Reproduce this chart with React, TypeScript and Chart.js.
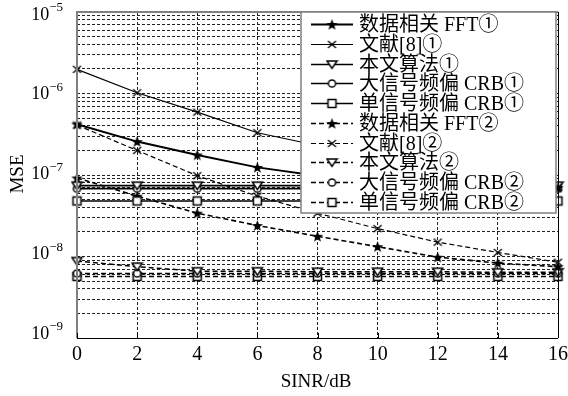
import React, { useEffect, useRef } from 'react';
import { Chart, registerables } from 'chart.js';
Chart.register(...registerables);

// ---- data ----
const sinr = [0, 2, 4, 6, 8, 10, 12, 14, 16];
const fft1 = [4.2e-7, 2.57e-7, 1.76e-7, 1.24e-7, 9.8e-8, 8.5e-8, 7.8e-8, 7.3e-8, 7.0e-8];
const ref1 = [1.98e-6, 1.02e-6, 5.9e-7, 3.3e-7, 2.3e-7, 1.6e-7, 1.15e-7, 8.8e-8, 7.0e-8];
const prop1 = [7.4e-8, 7.4e-8, 7.4e-8, 7.4e-8, 7.4e-8, 7.4e-8, 7.4e-8, 7.4e-8, 7.4e-8];
const crbLarge1 = [6.8e-8, 6.8e-8, 6.8e-8, 6.8e-8, 6.8e-8, 6.8e-8, 6.8e-8, 6.8e-8, 6.8e-8];
const crbSingle1 = [4.8e-8, 4.8e-8, 4.8e-8, 4.8e-8, 4.8e-8, 4.8e-8, 4.8e-8, 4.8e-8, 4.8e-8];
const fft2 = [9.2e-8, 5.5e-8, 3.4e-8, 2.4e-8, 1.77e-8, 1.32e-8, 9.8e-9, 8.3e-9, 7.5e-9];
const ref2 = [4.1e-7, 2.0e-7, 9.8e-8, 5.5e-8, 3.4e-8, 2.2e-8, 1.5e-8, 1.12e-8, 8.5e-9];
const prop2 = [8.8e-9, 7.5e-9, 6.6e-9, 6.6e-9, 6.5e-9, 6.5e-9, 6.5e-9, 6.4e-9, 6.4e-9];
const crbLarge2 = [6.2e-9, 6.2e-9, 6.2e-9, 6.2e-9, 6.2e-9, 6.2e-9, 6.2e-9, 6.2e-9, 6.2e-9];
const crbSingle2 = [5.7e-9, 5.7e-9, 5.7e-9, 5.7e-9, 5.7e-9, 5.7e-9, 5.7e-9, 5.7e-9, 5.7e-9];

const seriesNames = [
  '数据相关 FFT①', '文献[8]①', '本文算法①', '大信号频偏 CRB①', '单信号频偏 CRB①',
  '数据相关 FFT②', '文献[8]②', '本文算法②', '大信号频偏 CRB②', '单信号频偏 CRB②',
];
const seriesValues = [fft1, ref1, prop1, crbLarge1, crbSingle1, fft2, ref2, prop2, crbLarge2, crbSingle2];
const seriesMarkers = ['star', 'cross', 'tri', 'circle', 'square', 'star', 'cross', 'tri', 'circle', 'square'];
const seriesDashed = [false, false, false, false, false, true, true, true, true, true];
const seriesWidths = [2, 1.2, 1.6, 1.6, 1.4, 1.6, 1.2, 1.5, 1.5, 1.5];

const xTicks = [0, 2, 4, 6, 8, 10, 12, 14, 16];
const yDecades = [-5, -6, -7, -8, -9];
const xTitle = 'SINR/dB';
const yTitle = 'MSE';

const SERIF = '"Liberation Serif", "Times New Roman", "Noto Sans CJK SC", serif';

function makeMarker(kind: string): HTMLCanvasElement {
  const c = document.createElement('canvas');
  c.width = 13; c.height = 13;
  const g = c.getContext('2d')!;
  const m = 6.5;
  g.strokeStyle = '#000';
  g.fillStyle = '#fff';
  g.lineWidth = 1.5;
  if (kind === 'star') {
    g.beginPath();
    for (let i = 0; i < 10; i++) {
      const r = i % 2 === 0 ? 6 : 2.5;
      const a = -Math.PI / 2 + (i * Math.PI) / 5;
      const px = m + r * Math.cos(a), py = m + 0.5 + r * Math.sin(a);
      if (i === 0) g.moveTo(px, py); else g.lineTo(px, py);
    }
    g.closePath();
    g.fillStyle = '#000';
    g.fill();
  } else if (kind === 'cross') {
    g.lineWidth = 1.3;
    g.beginPath();
    g.moveTo(m - 4, m - 3.5); g.lineTo(m + 4, m + 3.5);
    g.moveTo(m + 4, m - 3.5); g.lineTo(m - 4, m + 3.5);
    g.stroke();
  } else if (kind === 'tri') {
    g.beginPath();
    g.moveTo(m - 5, m - 3.5); g.lineTo(m + 5, m - 3.5); g.lineTo(m, m + 4); g.closePath();
    g.fill(); g.stroke();
  } else if (kind === 'circle') {
    g.beginPath();
    g.arc(m, m, 3.6, 0, Math.PI * 2);
    g.fill(); g.stroke();
  } else {
    g.beginPath();
    g.rect(m - 4, m - 4, 8, 8);
    g.fill(); g.stroke();
  }
  return c;
}

export default function App() {
  const ref = useRef<HTMLCanvasElement | null>(null);
  useEffect(() => {
    const canvas = ref.current!;
    const markers: Record<string, HTMLCanvasElement> = {};
    ['star', 'cross', 'tri', 'circle', 'square'].forEach((k) => (markers[k] = makeMarker(k)));

    const datasets = seriesNames.map((name, i) => ({
      label: name,
      data: seriesValues[i].map((v, j) => ({ x: sinr[j], y: v })),
      borderColor: '#000',
      backgroundColor: '#000',
      borderWidth: seriesWidths[i],
      borderDash: seriesDashed[i] ? [5, 3] : [],
      pointStyle: markers[seriesMarkers[i]] as any,
      pointRadius: 5,
      tension: 0,
      fill: false,
      clip: false as any,
    }));

    const yTickValues: number[] = [];
    for (let e = -9; e <= -6; e++) for (let s = 1; s <= 9; s++) yTickValues.push(s * Math.pow(10, e));
    yTickValues.push(1e-5);

    const framePlugin = {
      id: 'frame',
      afterDatasetsDraw(chart: any) {
        const { ctx, chartArea: a } = chart;
        ctx.save();
        ctx.setLineDash([]);
        ctx.lineWidth = 2;
        ctx.strokeStyle = '#808080';
        ctx.beginPath();
        ctx.moveTo(a.left, a.bottom); ctx.lineTo(a.left, a.top); ctx.lineTo(a.right, a.top);
        ctx.stroke();
        ctx.lineWidth = 1;
        ctx.strokeStyle = '#000';
        ctx.beginPath();
        ctx.moveTo(a.left, Math.round(a.bottom) + 0.5); ctx.lineTo(a.right, Math.round(a.bottom) + 0.5);
        ctx.moveTo(Math.round(a.right) + 0.5, a.top); ctx.lineTo(Math.round(a.right) + 0.5, a.bottom);
        const xs = chart.scales.x;
        xTicks.forEach((v) => {
          const px = Math.round(xs.getPixelForValue(v)) + 0.5;
          ctx.moveTo(px, a.bottom); ctx.lineTo(px, a.bottom - 5);
        });
        ctx.stroke();
        ctx.restore();
      },
    };

    const legendPlugin = {
      id: 'boxLegend',
      afterDatasetsDraw(chart: any) {
        const ctx = chart.ctx;
        ctx.save();
        const x0 = 301, y0 = 12, x1 = 556, y1 = 213;
        ctx.fillStyle = '#fff';
        ctx.fillRect(x0, y0, x1 - x0, y1 - y0);
        ctx.strokeStyle = '#808080';
        ctx.lineWidth = 1.5;
        ctx.strokeRect(x0, y0, x1 - x0, y1 - y0);
        chart.data.datasets.forEach((ds: any, i: number) => {
          const y = Math.round(24 + i * 19.75) + 0.5;
          ctx.strokeStyle = '#000';
          ctx.lineWidth = seriesWidths[i];
          ctx.setLineDash(seriesDashed[i] ? [5, 3] : []);
          ctx.beginPath();
          ctx.moveTo(311, y); ctx.lineTo(353, y);
          ctx.stroke();
          ctx.setLineDash([]);
          const mk = markers[seriesMarkers[i]];
          ctx.drawImage(mk, 332 - mk.width / 2, y - mk.height / 2);
          ctx.fillStyle = '#000';
          ctx.font = '20px ' + SERIF;
          ctx.textAlign = 'left';
          ctx.textBaseline = 'middle';
          ctx.fillText(ds.label, 359, y + 1);
        });
        ctx.restore();
      },
    };

    const labelPlugin = {
      id: 'labels',
      afterDraw(chart: any) {
        const ctx = chart.ctx;
        const xs = chart.scales.x, ys = chart.scales.y;
        ctx.save();
        ctx.fillStyle = '#000';
        ctx.textBaseline = 'middle';
        ctx.font = '20px ' + SERIF;
        ctx.textAlign = 'center';
        xTicks.forEach((v) => ctx.fillText(String(v), xs.getPixelForValue(v), 355));
        yDecades.forEach((k, i) => {
          const py = ys.getPixelForValue(Math.pow(10, k)) + (3 - 1.75 * i);
          const exp = '\u2212' + String(-k);
          ctx.textAlign = 'right';
          ctx.font = '13px ' + SERIF;
          const ew = ctx.measureText(exp).width;
          ctx.fillText(exp, 63, py - 7);
          ctx.font = '18px ' + SERIF;
          ctx.fillText('10', 63 - ew, py);
        });
        ctx.font = '19px ' + SERIF;
        ctx.textAlign = 'center';
        ctx.fillText(xTitle, 316, 382);
        ctx.translate(18, 174);
        ctx.rotate(-Math.PI / 2);
        ctx.fillText(yTitle, 0, 0);
        ctx.restore();
      },
    };

    const chart = new Chart(canvas, {
      type: 'line',
      data: { datasets: datasets as any },
      options: {
        animation: false,
        responsive: false,
        devicePixelRatio: 1,
        layout: { padding: { top: 12, right: 10, left: 0, bottom: 0 } },
        plugins: { legend: { display: false }, tooltip: { enabled: false } },
        scales: {
          x: {
            type: 'linear',
            min: 0,
            max: 16,
            ticks: { display: false, stepSize: 2 },
            grid: { color: '#222', lineWidth: 1, drawTicks: false },
            border: { display: false, dash: [3, 2] },
            afterFit: (s: any) => { s.height = 58; },
          },
          y: {
            type: 'logarithmic',
            min: 1e-9,
            max: 1e-5,
            ticks: { display: false },
            grid: { color: '#222', lineWidth: 1, drawTicks: false },
            border: { display: false, dash: [3, 2] },
            afterBuildTicks: (s: any) => { s.ticks = yTickValues.map((v) => ({ value: v })); },
            afterFit: (s: any) => { s.width = 77; },
          },
        },
      },
      plugins: [framePlugin, legendPlugin, labelPlugin],
    });
    return () => chart.destroy();
  }, []);

  return (
    <div style={{ position: 'fixed', left: 0, top: 0, width: 568, height: 396, background: '#fff' }}>
      <canvas ref={ref} width={568} height={396} style={{ display: 'block' }} />
    </div>
  );
}
